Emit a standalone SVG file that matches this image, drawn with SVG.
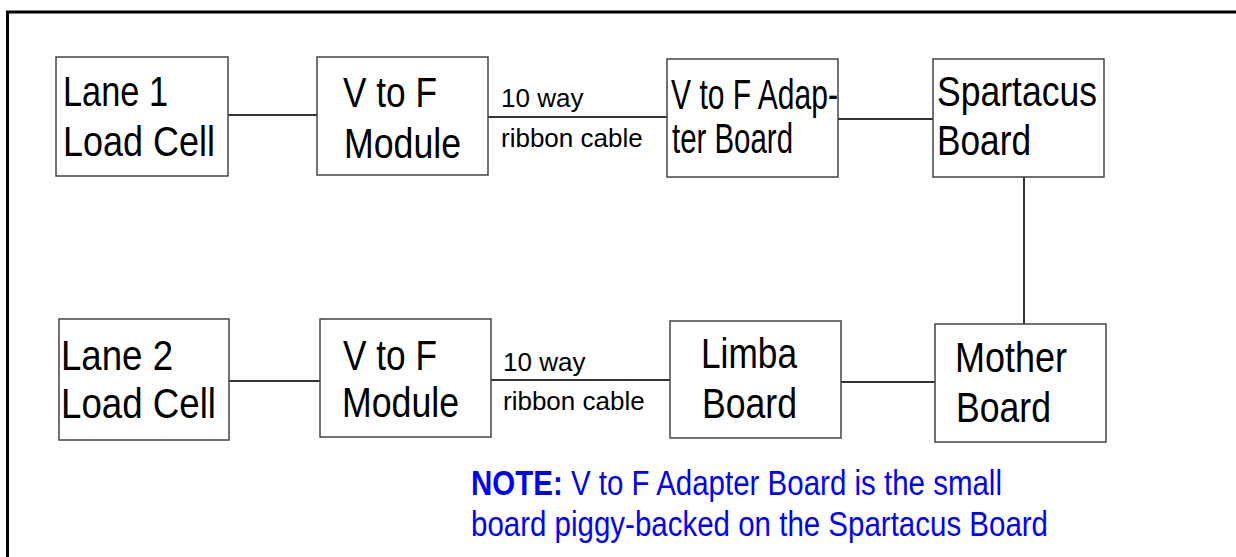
<svg xmlns="http://www.w3.org/2000/svg" width="1236" height="557" viewBox="0 0 1236 557">
<style>
.box{fill:#fff;stroke:#444;stroke-width:1.5}
.lbl{font-family:"Liberation Sans",Arial,sans-serif;font-size:42px;fill:#000}
.cab{font-family:"Liberation Sans",Arial,sans-serif;font-size:26px;fill:#000}
.note{font-family:"Liberation Sans",Arial,sans-serif;font-size:29.5px;fill:#0000ff}
.conn line{stroke:#333;stroke-width:2}
</style>
<rect x="0" y="0" width="1236" height="557" fill="#fff"/>
<path d="M7.5,557 V12 H1236" fill="none" stroke="#000" stroke-width="3"/>
<g id="connectors" class="conn">
<line x1="228" y1="115" x2="317" y2="115"/>
<line x1="488" y1="117" x2="667" y2="117"/>
<line x1="838" y1="119" x2="933" y2="119"/>
<line x1="1024" y1="177" x2="1024" y2="324"/>
<line x1="229" y1="381" x2="320" y2="381"/>
<line x1="491" y1="380" x2="670" y2="380"/>
<line x1="841" y1="382" x2="935" y2="382"/>
<text class="cab" x="501" y="107">10 way</text>
<text class="cab" x="501" y="147">ribbon cable</text>
<text class="cab" x="503" y="371">10 way</text>
<text class="cab" x="503" y="410">ribbon cable</text>
</g>
<g id="lane1">
<rect class="box" x="56" y="57" width="172" height="119"/>
<text class="lbl" x="63" y="106" textLength="105" lengthAdjust="spacingAndGlyphs">Lane 1</text>
<text class="lbl" x="63" y="156" textLength="152" lengthAdjust="spacingAndGlyphs">Load Cell</text>
</g>
<g id="vtof1">
<rect class="box" x="317" y="57" width="171" height="118"/>
<text class="lbl" x="343" y="107" textLength="94" lengthAdjust="spacingAndGlyphs">V to F</text>
<text class="lbl" x="344" y="158" textLength="117" lengthAdjust="spacingAndGlyphs">Module</text>
</g>
<g id="adapter">
<rect class="box" x="667" y="59" width="171" height="118"/>
<text class="lbl" x="671" y="109" textLength="167" lengthAdjust="spacingAndGlyphs">V to F Adap-</text>
<text class="lbl" x="672" y="153" textLength="121" lengthAdjust="spacingAndGlyphs">ter Board</text>
</g>
<g id="spartacus">
<rect class="box" x="933" y="59" width="171" height="118"/>
<text class="lbl" x="937" y="106" textLength="160" lengthAdjust="spacingAndGlyphs">Spartacus</text>
<text class="lbl" x="937" y="155" textLength="94" lengthAdjust="spacingAndGlyphs">Board</text>
</g>
<g id="lane2">
<rect class="box" x="59" y="319" width="170" height="121"/>
<text class="lbl" x="61" y="370" textLength="112" lengthAdjust="spacingAndGlyphs">Lane 2</text>
<text class="lbl" x="61" y="418" textLength="155" lengthAdjust="spacingAndGlyphs">Load Cell</text>
</g>
<g id="vtof2">
<rect class="box" x="320" y="319" width="171" height="118"/>
<text class="lbl" x="343" y="370" textLength="94" lengthAdjust="spacingAndGlyphs">V to F</text>
<text class="lbl" x="342" y="417" textLength="117" lengthAdjust="spacingAndGlyphs">Module</text>
</g>
<g id="limba">
<rect class="box" x="670" y="321" width="171" height="117"/>
<text class="lbl" x="701" y="368" textLength="96" lengthAdjust="spacingAndGlyphs">Limba</text>
<text class="lbl" x="702" y="418" textLength="95" lengthAdjust="spacingAndGlyphs">Board</text>
</g>
<g id="mother">
<rect class="box" x="935" y="324" width="171" height="118"/>
<text class="lbl" x="955" y="372" textLength="112" lengthAdjust="spacingAndGlyphs">Mother</text>
<text class="lbl" x="956" y="422" textLength="95" lengthAdjust="spacingAndGlyphs">Board</text>
</g>
<g id="note">
<text class="note" transform="translate(471,495) scale(1,1.18)"><tspan font-weight="bold">NOTE:</tspan> V to F Adapter Board is the small</text>
<text class="note" transform="translate(471,536) scale(1,1.18)">board piggy-backed on the Spartacus Board</text>
</g>
</svg>
